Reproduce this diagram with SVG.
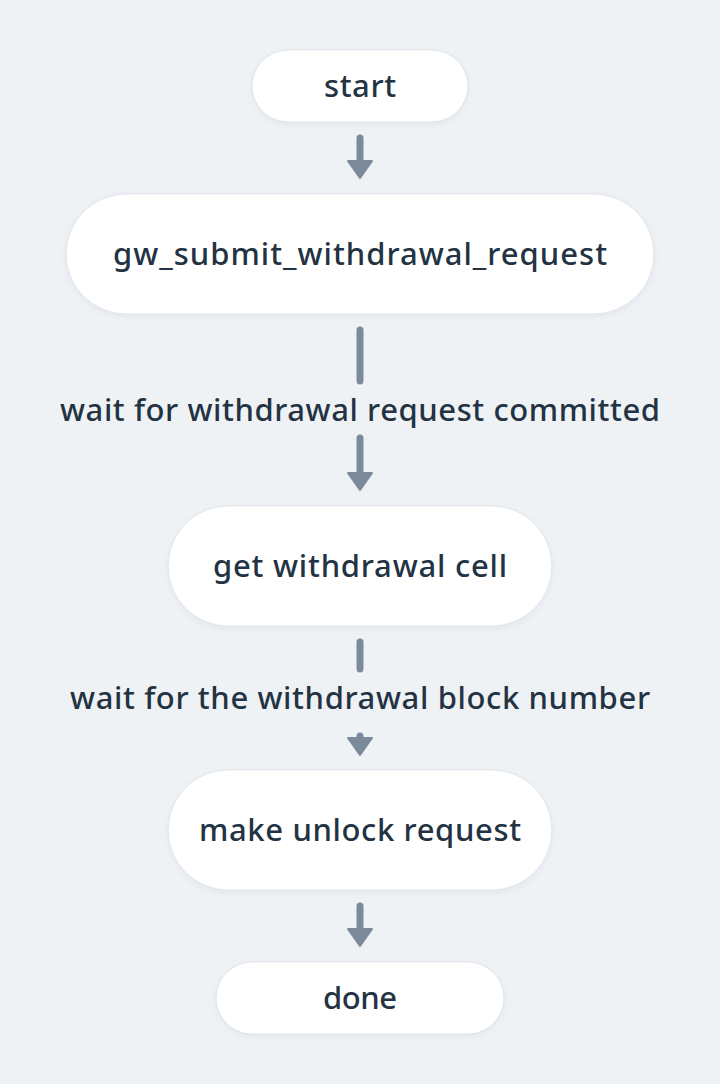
<svg xmlns="http://www.w3.org/2000/svg" width="720" height="1084" viewBox="0 0 720 1084">
  <defs>
    <filter id="sh" x="-10%" y="-20%" width="120%" height="150%">
      <feDropShadow dx="0" dy="2" stdDeviation="3" flood-color="#8a98a8" flood-opacity="0.15"/>
    </filter>
    <marker id="ah" markerUnits="userSpaceOnUse" markerWidth="24" markerHeight="30" viewBox="-2 -15 22 30" refX="0" refY="0" orient="auto">
      <path d="M0,-12 L17,0 L0,12 Z" fill="#7b8a9a" stroke="#7b8a9a" stroke-width="2" stroke-linejoin="round"/>
    </marker>
    <style>
      .node rect { fill: #ffffff; stroke: #d9dee4; stroke-width: 0.8; filter: url(#sh); }
      .node text, .lbl { font-family: "Noto Sans", "DejaVu Sans", sans-serif; font-size: 31px; font-weight: 500; fill: #233343; text-anchor: middle; }
      .c line { stroke: #7b8a9a; stroke-width: 7; stroke-linecap: round; }
      .c line.ar { marker-end: url(#ah); }
    </style>
  </defs>
  <rect width="720" height="1084" fill="#eff2f5"/>

  <g id="connectors" class="c">
    <line class="ar" x1="360" y1="138" x2="360" y2="161"/>
    <line x1="360" y1="330" x2="360" y2="381"/>
    <line class="ar" x1="360" y1="438" x2="360" y2="473"/>
    <line x1="360" y1="642" x2="360" y2="669"/>
    <line class="ar" x1="360" y1="736" x2="360" y2="738"/>
    <line class="ar" x1="360" y1="906" x2="360" y2="929"/>
  </g>

  <g id="labels">
    <text class="lbl" x="360" y="421" textLength="600">wait for withdrawal request committed</text>
    <text class="lbl" x="360" y="709" textLength="580">wait for the withdrawal block number</text>
  </g>

  <g id="start" class="node">
    <rect x="252" y="50" width="216" height="72" rx="36"/>
    <text x="360" y="97" textLength="72">start</text>
  </g>
  <g id="submit" class="node">
    <rect x="66" y="194" width="588" height="120" rx="60"/>
    <text x="360" y="265" textLength="494">gw_submit_withdrawal_request</text>
  </g>
  <g id="getcell" class="node">
    <rect x="168" y="506" width="384" height="120" rx="60"/>
    <text x="360" y="577" textLength="294">get withdrawal cell</text>
  </g>
  <g id="unlock" class="node">
    <rect x="168" y="770" width="384" height="120" rx="60"/>
    <text x="360" y="841" textLength="322">make unlock request</text>
  </g>
  <g id="done" class="node">
    <rect x="216" y="962" width="288" height="72" rx="36"/>
    <text x="360" y="1009" textLength="74">done</text>
  </g>
</svg>
